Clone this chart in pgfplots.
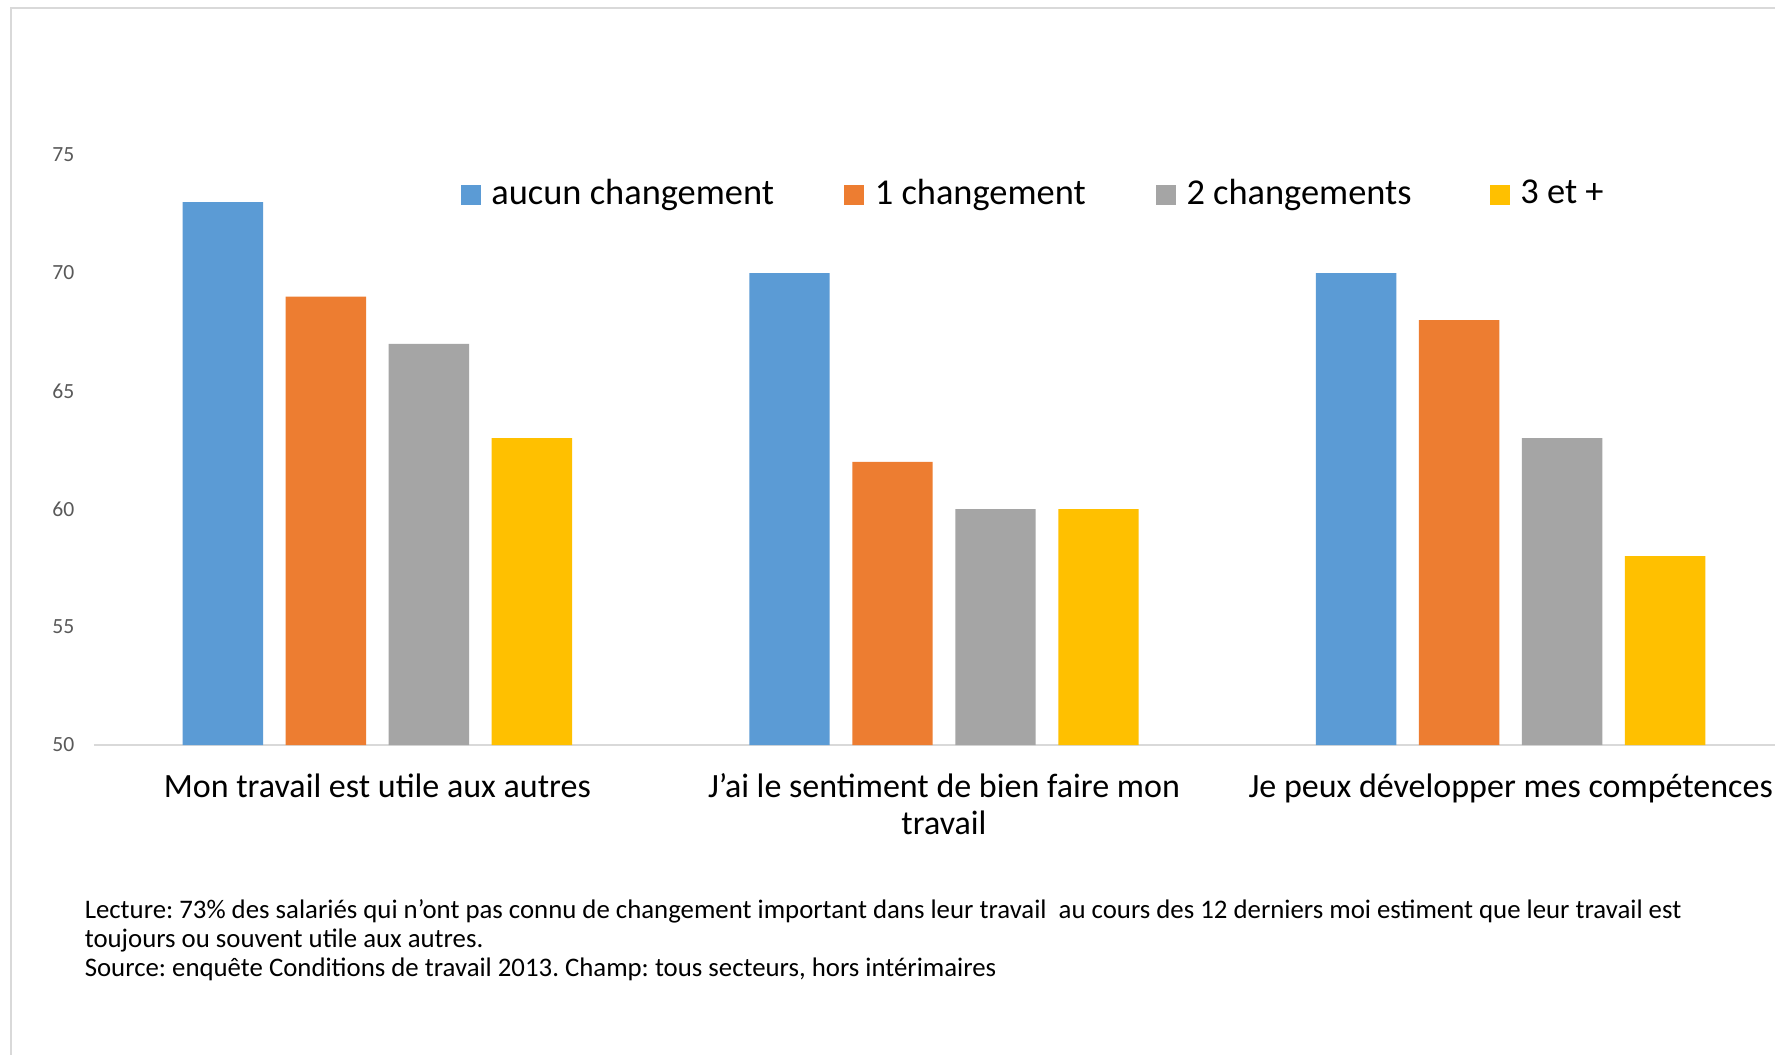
\documentclass[border=0pt]{standalone}
\usepackage{pgfplots}
\pgfplotsset{compat=1.18}
\usepackage{fontspec}
\setmainfont{Carlito}
\frenchspacing
\definecolor{cblue}{HTML}{5B9BD5}
\definecolor{corange}{HTML}{ED7D31}
\definecolor{cgray}{HTML}{A5A5A5}
\definecolor{cyellow}{HTML}{FFC000}
\definecolor{framegray}{HTML}{D9D9D9}
\definecolor{tickgray}{HTML}{595959}
\begin{document}
\begin{tikzpicture}
\useasboundingbox (0pt,0pt) rectangle (443.75pt,263.5pt);
\clip (0pt,0pt) rectangle (443.75pt,263.5pt);
\fill[white] (0pt,0pt) rectangle (443.75pt,263.5pt);
\draw[framegray, line width=0.5pt] (2.75pt,-2pt) -- (2.75pt,261.5pt) -- (446pt,261.5pt);
\begin{axis}[
  at={(23.5pt,77.25pt)}, anchor=south west,
  scale only axis, width=425pt, height=147.5pt,
  xmin=-0.5, xmax=2.5, ymin=50, ymax=75,
  ybar=5.65pt, bar width=20.1pt,
  axis x line*=bottom, axis y line*=left,
  x axis line style={draw=framegray, line width=0.5pt, -},
  y axis line style={draw=none},
  major tick length=0pt,
  xtick={0,1,2},
  xticklabels={Mon travail est utile aux autres, {J'ai le sentiment de bien faire mon\\travail}, Je peux développer mes compétences},
  xticklabel style={font=\fontsize{8.5}{9.25}\selectfont, align=center, anchor=north, inner sep=0pt, yshift=-6.9pt},
  ytick={50,55,...,75},
  yticklabel style={font=\fontsize{5.4}{6}\selectfont, text=tickgray, inner sep=0pt, xshift=-4.75pt},
  /pgf/number format/assume math mode=true,
  legend columns=4,
  legend image code/.code={\fill[#1] (0pt,-2.5pt) rectangle (5pt,2.5pt);},
  legend style={draw=none, fill=none, at={(rel axis cs:0.2159,0.932)}, anchor=west,
    inner sep=0pt, outer sep=0pt,
    nodes={inner sep=0pt, font=\fontsize{9.1}{10.9}\selectfont},
    /tikz/every odd column/.append style={column sep=2.6pt},
    /tikz/every even column/.append style={column sep=17.6pt}},
]
\addplot[fill=cblue, draw=none] coordinates {(0,73) (1,70) (2,70)};
\addplot[fill=corange, draw=none] coordinates {(0,69) (1,62) (2,68)};
\addplot[fill=cgray, draw=none] coordinates {(0,67) (1,60) (2,63)};
\addplot[fill=cyellow, draw=none] coordinates {(0,63) (1,60) (2,58)};
\legend{aucun changement, 1 changement, {2 changements\hspace*{2pt}}, 3 et +}
\end{axis}
\node[anchor=base west, inner sep=0pt, font=\fontsize{6.7}{7.4}\selectfont] at (21pt,34pt) {Lecture: 73\% des salariés qui n'ont pas connu de changement important dans leur travail\ \ au cours des 12 derniers moi estiment que leur travail est};
\node[anchor=base west, inner sep=0pt, font=\fontsize{6.7}{7.4}\selectfont] at (21pt,26.75pt) {toujours ou souvent utile aux autres.};
\node[anchor=base west, inner sep=0pt, font=\fontsize{6.7}{7.4}\selectfont] at (21pt,19.5pt) {Source: enquête Conditions de travail 2013. Champ: tous secteurs, hors intérimaires};
\end{tikzpicture}
\end{document}
